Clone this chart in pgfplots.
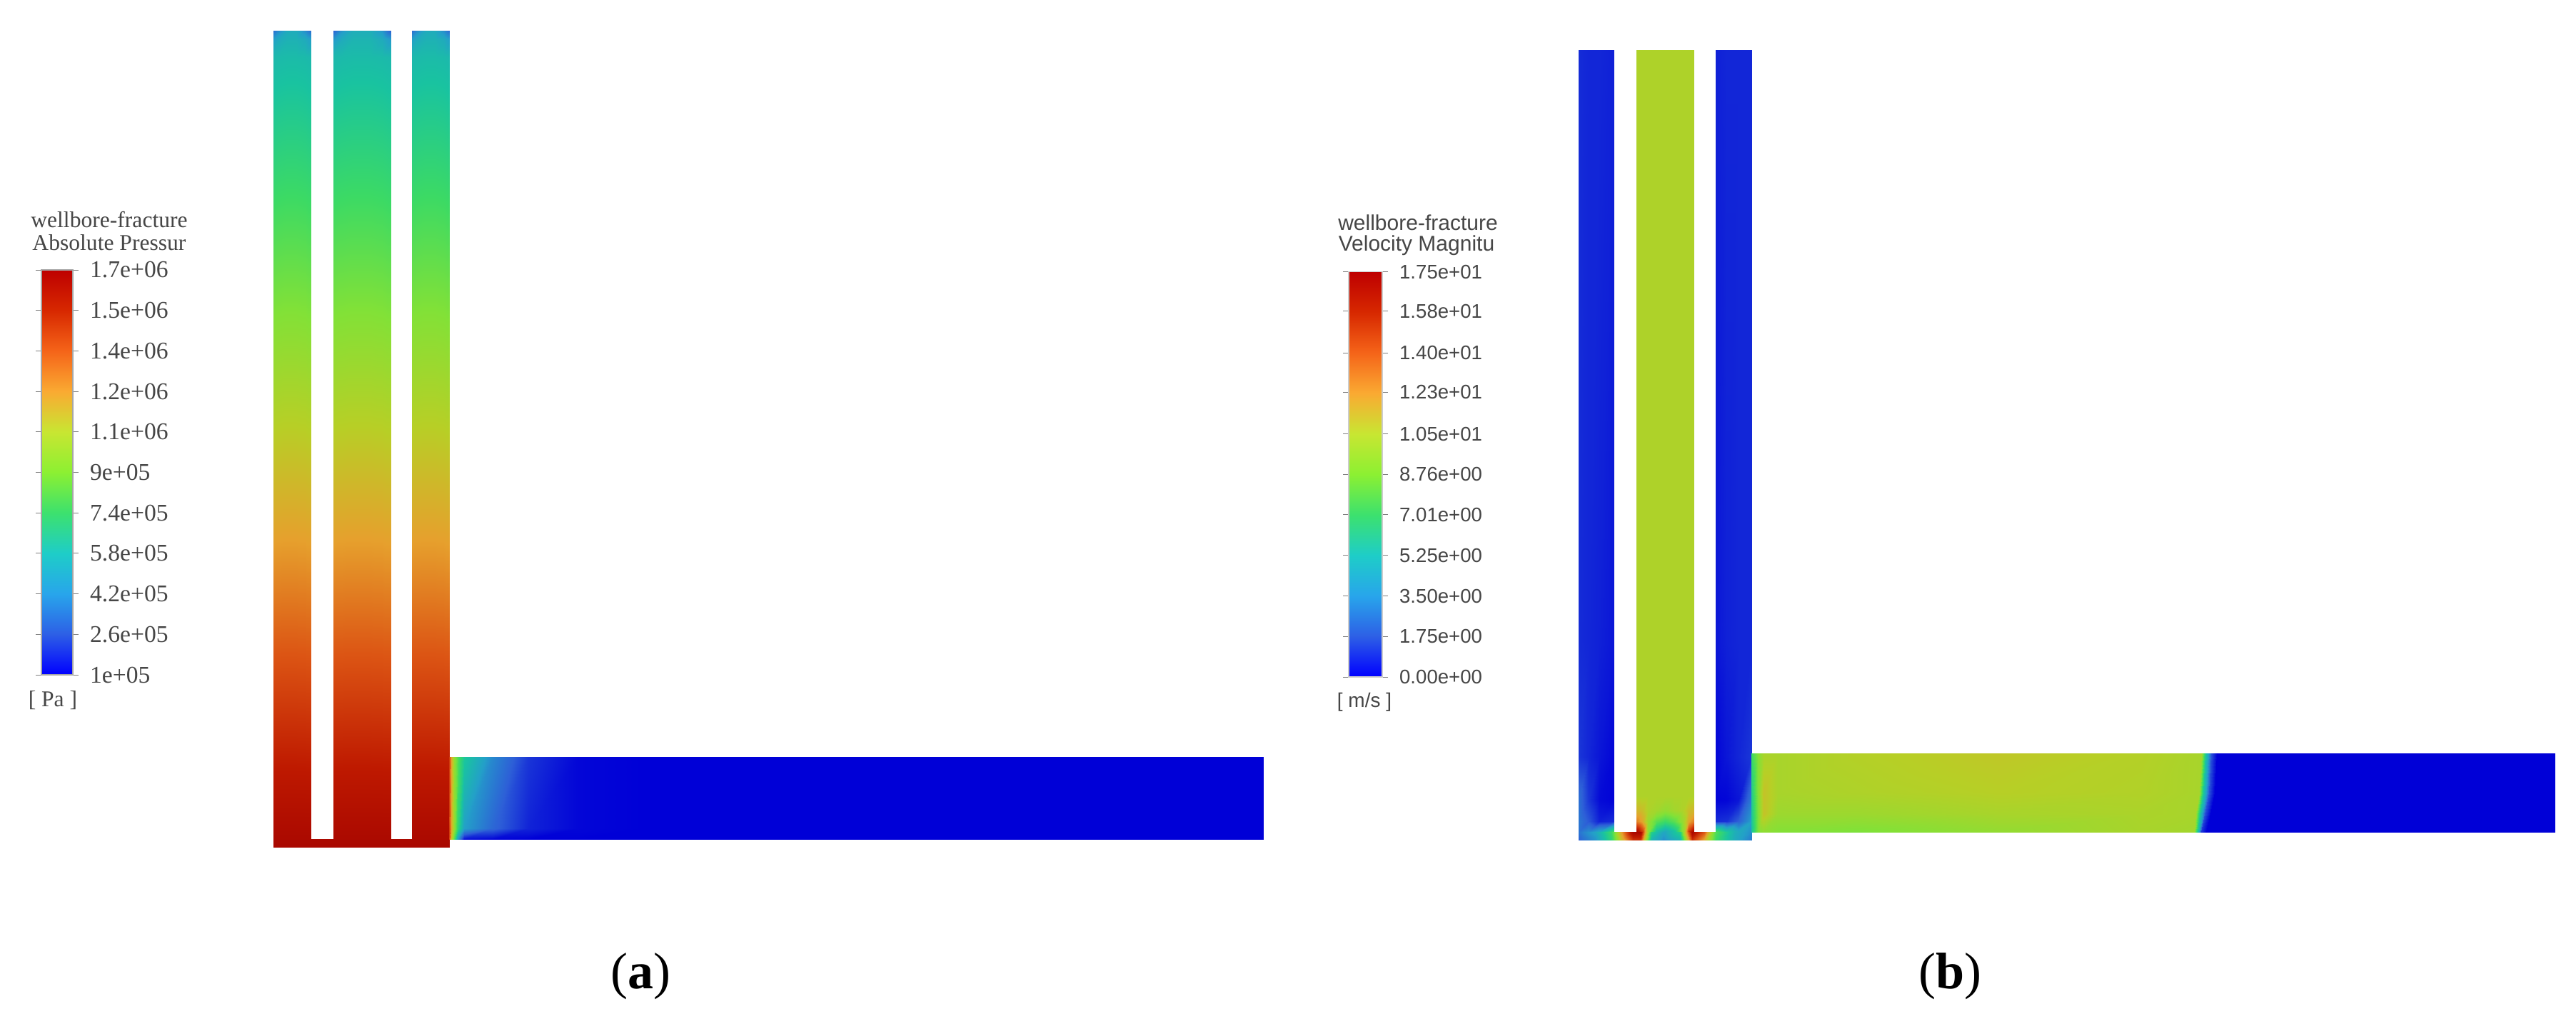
\documentclass[border=0pt]{standalone}
\usepackage{pgfplots}
\pgfplotsset{compat=1.18}
\usepackage{fontspec}
\setmainfont{Liberation Serif}
\newfontfamily\legA{Liberation Serif}
\newfontfamily\legB{Liberation Sans}
\definecolor{legtext}{RGB}{70,70,70}
\pgfplotsset{
 colormap={legendmap}{rgb255=(0,0,255) rgb255=(45,95,230) rgb255=(40,165,235) rgb255=(30,205,200) rgb255=(60,225,110) rgb255=(140,240,50) rgb255=(200,230,50) rgb255=(250,170,50) rgb255=(245,100,25) rgb255=(215,40,0) rgb255=(190,0,0)},
 colormap={fieldmap}{rgb255=(0,0,215) rgb255=(45,95,215) rgb255=(35,160,200) rgb255=(25,195,160) rgb255=(60,218,100) rgb255=(130,225,55) rgb255=(183,207,38) rgb255=(230,160,45) rgb255=(220,85,20) rgb255=(190,25,0) rgb255=(160,0,0)},
 panel/.style={
  at={(0,0)},anchor=south west,scale only axis,width=902pt,height=356.5pt,
  xmin=0,xmax=3608,ymin=0,ymax=1426,zmin=-1,zmax=1,y dir=reverse,view={0}{90},
  axis lines=none,clip=false,colormap name=fieldmap,
  colorbar,
 },
 field/.style={surf,shader=interp,mesh/cols=#1,point meta=explicit},
}
\begin{document}
\begin{tikzpicture}
\path[use as bounding box,fill=white] (0,0) rectangle (902pt,356.5pt);
% ---------- (a) absolute pressure ----------
\begin{axis}[panel,point meta min=100000,point meta max=1700000,
 colorbar style={colormap name=legendmap,at={(0.01608,0.73492)},anchor=north west,scale only axis,width=11pt,height=141.75pt,
  scaled y ticks=false,ytick scale label code/.code={},
  ytick={100000,260000,420000,580000,740000,900000,1060000,1220000,1380000,1540000,1700000},
  yticklabels={1e+05,2.6e+05,4.2e+05,5.8e+05,7.4e+05,9e+05,1.1e+06,1.2e+06,1.4e+06,1.5e+06,1.7e+06},
  yticklabel style={font=\legA\fontsize{8.4}{9}\selectfont,text=legtext,xshift=0.5pt},
  major tick length=2pt,tick align=outside,tick style={color=gray},axis line style={color=gray!70}}]
\addplot3[field=6] table[x=x,y=y,z expr=0,meta=v] {
x y v
383 43 300000
391 43 380000
403 43 470000
415 43 470000
427 43 380000
435 43 300000
383 55 420000
391 55 470000
403 55 500000
415 55 500000
427 55 470000
435 55 420000
383 80 530000
391 80 540000
403 80 545000
415 80 545000
427 80 540000
435 80 530000
383 1186 1650000
391 1186 1650000
403 1186 1650000
415 1186 1650000
427 1186 1650000
435 1186 1650000
};
\addplot3[field=6] table[x=x,y=y,z expr=0,meta=v] {
x y v
467 43 270000
479 43 400000
495 43 480000
519 43 480000
535 43 400000
547 43 270000
467 55 400000
479 55 470000
495 55 510000
519 55 510000
535 55 470000
547 55 400000
467 80 530000
479 80 540000
495 80 545000
519 80 545000
535 80 540000
547 80 530000
467 1186 1650000
479 1186 1650000
495 1186 1650000
519 1186 1650000
535 1186 1650000
547 1186 1650000
};
\addplot3[field=6] table[x=x,y=y,z expr=0,meta=v] {
x y v
577 43 300000
585 43 380000
597 43 470000
609 43 470000
621 43 380000
629 43 300000
577 55 420000
585 55 470000
597 55 500000
609 55 500000
621 55 470000
629 55 420000
577 80 530000
585 80 540000
597 80 545000
609 80 545000
621 80 540000
629 80 530000
577 1186 1650000
585 1186 1650000
597 1186 1650000
609 1186 1650000
621 1186 1650000
629 1186 1650000
};
\addplot3[field=2] table[x=x,y=y,z expr=0,meta=v] {
x y v
435 1175 1640000
467 1175 1640000
435 1186 1650000
467 1186 1650000
};
\addplot3[field=2] table[x=x,y=y,z expr=0,meta=v] {
x y v
547 1175 1640000
577 1175 1640000
547 1186 1650000
577 1186 1650000
};
\addplot3[field=10] table[x=x,y=y,z expr=0,meta=v] {
x y v
629 1060 1450000
632 1060 1200000
636 1060 950000
642 1060 760000
650 1060 600000
690 1060 360000
740 1060 190000
810 1060 110000
900 1060 100000
1769 1060 100000
629 1160 1450000
632 1160 1200000
636 1160 950000
641 1160 700000
650 1160 420000
690 1160 280000
740 1160 160000
810 1160 110000
900 1160 100000
1769 1160 100000
629 1175 1450000
632 1175 1100000
636 1175 800000
641 1175 400000
650 1175 130000
690 1175 110000
740 1175 100000
810 1175 100000
900 1175 100000
1769 1175 100000
};
\node[font=\legA\fontsize{7.9}{8}\selectfont,text=legtext] at (axis cs:153,308) {wellbore-fracture};
\node[font=\legA\fontsize{7.9}{8}\selectfont,text=legtext] at (axis cs:153,340) {Absolute Pressur};
\node[font=\legA\fontsize{7.9}{8}\selectfont,text=legtext] at (axis cs:74,981) {[ Pa ]};
\node[font=\fontsize{18}{18}\selectfont] at (axis cs:897,1367) {(\textbf{a})};
\end{axis}
% ---------- (b) velocity magnitude ----------
\begin{axis}[panel,point meta min=0,point meta max=17.5,
 colorbar style={colormap name=legendmap,at={(0.52356,0.73317)},anchor=north west,scale only axis,width=11.75pt,height=141.9pt,
  scaled y ticks=false,
  ytick={0,1.75,3.5,5.25,7.01,8.76,10.5,12.3,14,15.8,17.5},
  yticklabels={0.00e+00,1.75e+00,3.50e+00,5.25e+00,7.01e+00,8.76e+00,1.05e+01,1.23e+01,1.40e+01,1.58e+01,1.75e+01},
  yticklabel style={font=\legB\fontsize{6.9}{7}\selectfont,text=legtext,xshift=0.5pt},
  major tick length=2pt,tick align=outside,tick style={color=gray},axis line style={color=gray!40}}]
% left well
\addplot3[field=4] table[x=x,y=y,z expr=0,meta=v] {
x y v
2211 70 0.8
2225 70 0.7
2240 70 0.7
2260 70 0.6
2211 900 0.8
2225 900 0.7
2240 900 0.6
2260 900 0.4
2211 1060 1.0
2225 1060 0.7
2240 1060 0.4
2260 1060 0.1
2211 1120 2.2
2225 1120 1.0
2240 1120 0.2
2260 1120 0.05
2211 1150 2.4
2225 1150 1.6
2240 1150 0.6
2260 1150 0.8
2211 1165 2.3
2225 1165 3.0
2240 1165 4.0
2260 1165 7.5
};
% middle well
\addplot3[field=9] table[x=x,y=y,z expr=0,meta=v] {
x y v
2292 70 10.2
2300 70 10.2
2308 70 10.2
2320 70 10.2
2332 70 10.2
2345 70 10.2
2357 70 10.2
2365 70 10.2
2372 70 10.2
2292 1115 10.2
2300 1115 10.2
2308 1115 10.2
2320 1115 10.2
2332 1115 10.2
2345 1115 10.2
2357 1115 10.2
2365 1115 10.2
2372 1115 10.2
2292 1135 11.5
2300 1135 11.2
2308 1135 10.2
2320 1135 9.8
2332 1135 9.3
2345 1135 9.8
2357 1135 10.2
2365 1135 11.2
2372 1135 11.5
2292 1150 13
2300 1150 12
2308 1150 9.5
2320 1150 7.8
2332 1150 7
2345 1150 7.8
2357 1150 9.5
2365 1150 12
2372 1150 13
2292 1165 17
2300 1165 15
2308 1165 9
2320 1165 5
2332 1165 3.8
2345 1165 5
2357 1165 9
2365 1165 15
2372 1165 17
};
% right well
\addplot3[field=4] table[x=x,y=y,z expr=0,meta=v] {
x y v
2403 70 0.6
2418 70 0.7
2435 70 0.7
2453 70 0.7
2403 900 0.4
2418 900 0.6
2435 900 0.7
2453 900 0.7
2403 1060 0.1
2418 1060 0.4
2435 1060 0.7
2453 1060 1.0
2403 1120 0.05
2418 1120 0.1
2435 1120 0.4
2453 1120 2.5
2403 1150 0.8
2418 1150 0.9
2435 1150 1.8
2453 1150 3.5
2403 1165 7.5
2418 1165 5.5
2435 1165 4
2453 1165 3
};
% wellbore bottom
\addplot3[field=16] table[x=x,y=y,z expr=0,meta=v] {
x y v
2211 1165 2.3
2235 1165 3.8
2257 1165 7
2270 1165 12
2287 1165 17
2298 1165 17
2303 1165 13
2313 1165 6
2330 1165 3.8
2353 1165 6
2363 1165 13
2370 1165 17
2387 1165 14
2403 1165 7.5
2430 1165 4.2
2453 1165 3
2211 1176 1.8
2235 1176 3.2
2257 1176 6.5
2270 1176 11
2287 1176 15
2298 1176 15
2303 1176 11
2313 1176 4.5
2330 1176 3
2353 1176 4.5
2363 1176 11
2370 1176 15
2387 1176 12
2403 1176 7
2430 1176 4
2453 1176 2.5
};
% fracture
\addplot3[field=12] table[x=x,y=y,z expr=0,meta=v] {
x y v
2453 1055 7.0
2462 1055 8.8
2470 1055 10.0
2490 1055 10.0
2600 1055 10.4
2800 1055 10.8
3000 1055 10.4
3083 1055 10.0
3089 1055 5.5
3097 1055 1.5
3105 1055 0
3578 1055 0
2453 1110 5.8
2462 1110 8.8
2470 1110 11.0
2490 1110 10.0
2600 1110 10.2
2800 1110 10.5
3000 1110 10.3
3080 1110 10.0
3086 1110 5.5
3094 1110 1.5
3102 1110 0
3578 1110 0
2453 1140 5.5
2462 1140 8.6
2470 1140 11.0
2490 1140 9.6
2600 1140 9.6
2800 1140 10.0
3000 1140 10.1
3075 1140 10.0
3081 1140 5.5
3088 1140 1.5
3096 1140 0
3578 1140 0
2453 1165 5.2
2462 1165 8.6
2470 1165 9.2
2490 1165 8.8
2600 1165 8.6
2800 1165 9.3
3000 1165 10
3073 1165 9.8
3078 1165 5.5
3083 1165 1.0
3090 1165 0
3578 1165 0
};
\node[font=\legB\fontsize{7.5}{8}\selectfont,text=legtext] at (axis cs:1986,312) {wellbore-fracture};
\node[font=\legB\fontsize{7.5}{8}\selectfont,text=legtext] at (axis cs:1984,344) {Velocity Magnitu};
\node[font=\legB\fontsize{7}{8}\selectfont,text=legtext] at (axis cs:1911,983) {[ m/s ]};
\node[font=\fontsize{18}{18}\selectfont] at (axis cs:2731,1367) {(\textbf{b})};
\end{axis}
\end{tikzpicture}
\end{document}
